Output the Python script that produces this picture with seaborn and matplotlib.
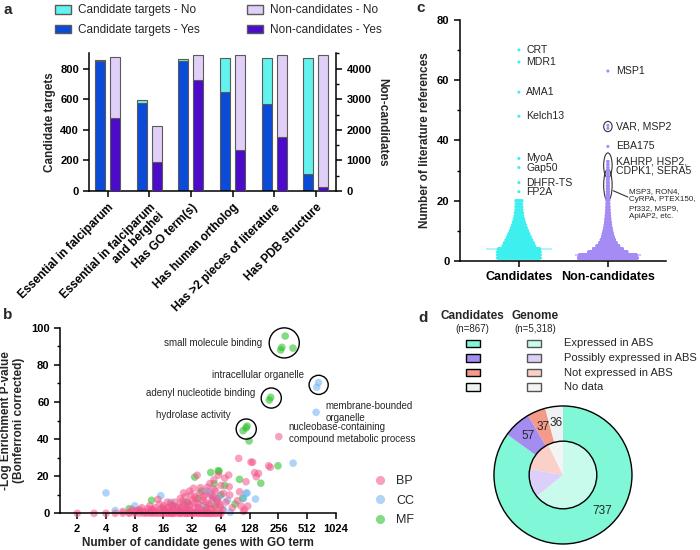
import numpy as np
import pandas as pd
import matplotlib
matplotlib.use("Agg")
import matplotlib.pyplot as plt
import seaborn as sns
from matplotlib.patches import Patch, Rectangle, Ellipse, Circle
from matplotlib.ticker import MultipleLocator, NullLocator

# ---------------- data ----------------
# panel a
criteria = ["Essential in falciparum", "Essential in falciparum\nand berghei", "Has GO term(s)",
            "Has human ortholog", "Has >2 pieces of literature", "Has PDB structure"]
cand_yes = [848, 572, 852, 650, 567, 111]
cand_no = [8, 20, 13, 217, 300, 756]
nonc_yes = [2400, 945, 3620, 1337, 1770, 140]
nonc_no = [1980, 1195, 831, 3114, 2681, 4311]

# panel b (GO terms)
bp_x = [2, 3, 4, 5, 6, 7, 8, 9, 10, 11, 12, 13, 14, 15, 16, 17, 18, 19, 20, 22, 24, 26, 28, 30, 33, 36,
        40, 44, 48, 52, 57, 62,
        8, 9, 10, 11, 12, 13, 14, 15, 16, 17, 18, 19, 20, 21, 22, 23, 24, 25, 26, 27, 28, 29, 30, 31,
        32, 33, 34, 35, 36, 37, 38, 39, 40, 42, 44, 46, 48, 49, 50, 52, 54, 55, 56, 58, 60, 62, 64,
        66, 68, 70, 72, 77, 78, 79, 84, 95, 98, 100, 104, 110, 113, 117, 122, 132, 137, 144, 150,
        158, 202, 210, 258, 45, 35, 27, 18, 12,
        6, 7, 7.5, 8.5, 9.5, 10.5, 11.5, 12.5, 13.5, 14.5, 15.5, 16.5, 17.5, 18.5, 19.5, 21, 23, 25,
        27, 29, 31, 34, 37, 41, 43, 47, 51, 53, 59, 63, 20, 24, 28, 32, 38, 42, 46, 50, 56, 64,
        26, 30, 34, 44, 54]
bp_y = [0] * 32 + \
       [1, 2, 1, 2.5, 1.5, 3, 7.5, 2, 4, 1, 3, 5, 2, 6, 4, 1.5, 8, 3, 5, 9, 2, 6, 4, 10,
        7, 13.5, 3, 8, 20.5, 5, 11, 13.8, 2, 9, 6, 14, 4, 16, 10, 7, 18, 3, 12, 8, 20.6, 5, 15,
        2, 10.8, 19, 6, 20.6, 14.3, 9.9, 3, 6.8, 29.6, 11.6, 3.9, 1, 2, 17, 3.9, 27.6, 27.5, 21.9, 19.7,
        21.5, 25.6, 24.8, 41.3, 1, 0.5, 0.5, 0.5, 0.5] + \
       [1, 0.5, 2, 1.5, 3, 0.5, 4, 2, 1, 5, 3, 2.5, 6, 1, 4, 0.5, 3, 6.5, 2, 4.5,
        1, 5.5, 3, 7, 1.5, 5, 2.5, 9, 6, 3.5, 0, 0, 0, 0, 0, 0, 0, 0, 0, 0,
        11, 12, 9, 10, 13]
cc_x = [4, 5, 8, 12, 15, 19, 22, 26, 30, 36, 40, 45, 49, 52, 58, 62, 68, 75, 80, 110, 117, 120, 147,
        364, 634, 644, 671]
cc_y = [11, 1.5, 4, 2, 9.5, 6, 3, 5, 2, 1, 4, 12, 11.5, 8, 7, 9, 2, 7, 0.5, 8, 10.8, 11, 7.7,
        27, 54.4, 67.9, 70.4]
mf_x = [7, 9, 12, 16, 20, 24, 28, 34, 37, 40, 45, 50, 54, 56, 60, 61, 64, 70, 90, 100, 108, 109, 117,
        120, 126, 167, 205, 212, 253, 270, 278, 301, 363]
mf_y = [2.5, 1, 7, 2, 4, 1, 6, 19.5, 8, 12, 3, 22, 16, 4, 23, 22.5, 10, 15, 5, 18.3, 8.1, 44.5, 46,
        47, 39, 16.2, 61, 62.5, 25.6, 88, 89.4, 95.5, 89]

# panel c (literature references, counts per value 1..)
cand_counts = [110, 110, 110, 105, 72, 64, 54, 45, 38, 31, 25, 20, 16, 13, 10, 9, 7, 7, 6, 7]
nonc_counts = [1160, 1097, 620, 420, 280, 190, 140, 105, 85, 65, 50, 40, 32, 26, 21, 17, 14, 12, 10,
               9, 8, 7, 6, 5, 5, 4, 4, 3, 3, 3, 2, 2, 2]
cand_out = {"CRT": 70, "MDR1": 66, "AMA1": 56, "Kelch13": 48, "MyoA": 34, "Gap50": 31,
            "DHFR-TS": 26, "FP2A": 23}
nonc_out = {"MSP1": 63, "VAR": 45, "MSP2": 44, "EBA175": 38}

# panel d
expr_labels = ["Expressed in ABS", "Possibly expressed in ABS", "Not expressed in ABS", "No data"]
cand_expr = [737, 57, 37, 36]
genome_expr = [3409, 729, 794, 386]

# ---------------- style ----------------
sns.set_style("ticks")
plt.rcParams["font.family"] = ["Liberation Sans", "DejaVu Sans"]
plt.rcParams["axes.linewidth"] = 1.1
plt.rcParams["xtick.major.width"] = 1.1
plt.rcParams["ytick.major.width"] = 1.1
plt.rcParams["xtick.minor.width"] = 1.0
plt.rcParams["ytick.minor.width"] = 1.0
plt.rcParams["xtick.major.size"] = 4
plt.rcParams["ytick.major.size"] = 4
plt.rcParams["ytick.minor.size"] = 2.5
plt.rcParams["axes.edgecolor"] = "black"
plt.rcParams["xtick.color"] = "black"
plt.rcParams["ytick.color"] = "black"

fig = plt.figure(figsize=(7, 5.5), dpi=100)

# ---------------- panel a ----------------
c_no, c_yes, n_no, n_yes = "#63F3EE", "#0A4BD8", "#E0CFF7", "#4B0BC8"
edge = "#5a5a5a"
ax_a = fig.add_axes([0.1276, 0.6527, 0.3524, 0.2504])
ax_a2 = ax_a.twinx()
xa = np.arange(len(criteria))
bw = 0.24
ax_a.bar(xa - 0.18, cand_yes, bw, color=c_yes, edgecolor=edge, lw=0.8)
ax_a.bar(xa - 0.18, cand_no, bw, bottom=cand_yes, color=c_no, edgecolor=edge, lw=0.8)
ax_a2.bar(xa + 0.18, nonc_yes, bw, color=n_yes, edgecolor=edge, lw=0.8)
ax_a2.bar(xa + 0.18, nonc_no, bw, bottom=nonc_yes, color=n_no, edgecolor=edge, lw=0.8)
ax_a.set_xlim(-0.44, 5.48)
ax_a.set_ylim(0, 900)
ax_a2.set_ylim(0, 4500)
ax_a.set_yticks(range(0, 801, 200))
ax_a2.set_yticks(range(0, 4001, 1000))
ax_a2.yaxis.set_minor_locator(MultipleLocator(500))
ax_a.set_xticks(xa)
ax_a.set_xticklabels(criteria, rotation=45, ha="right", rotation_mode="anchor",
                     fontsize=8.5, fontweight="bold", linespacing=0.95)
for t in ax_a.get_yticklabels() + ax_a2.get_yticklabels():
    t.set_fontweight("bold")
    t.set_fontsize(8)
ax_a.set_ylabel("Candidate targets", fontsize=8.5, fontweight="bold", labelpad=3)
ax_a2.set_ylabel("Non-candidates", fontsize=8.5, fontweight="bold", rotation=270, labelpad=12)
ax_a.spines["top"].set_visible(False)
ax_a.spines["right"].set_visible(False)
ax_a2.spines["top"].set_visible(False)
ax_a2.spines["left"].set_visible(False)
ax_a2.spines["bottom"].set_visible(False)
handles = [Patch(fc=c_no, ec=edge, label="Candidate targets - No"),
           Patch(fc=c_yes, ec=edge, label="Candidate targets - Yes"),
           Patch(fc=n_no, ec=edge, label="Non-candidates - No"),
           Patch(fc=n_yes, ec=edge, label="Non-candidates - Yes")]
fig.legend(handles=handles, ncol=2, loc="upper left", bbox_to_anchor=(0.0786, 0.992),
           frameon=False, fontsize=8.5, handlelength=1.35, handleheight=0.75,
           handletextpad=0.6, columnspacing=4.0, labelspacing=0.65, borderpad=0, borderaxespad=0)

# ---------------- panel b ----------------
df_b = pd.concat([
    pd.DataFrame({"x": mf_x, "y": mf_y, "cat": "MF"}),
    pd.DataFrame({"x": cc_x, "y": cc_y, "cat": "CC"}),
    pd.DataFrame({"x": bp_x, "y": bp_y, "cat": "BP"}),
], ignore_index=True)
pal_b = {"BP": "#F4548A", "CC": "#6DB2F4", "MF": "#20BE20"}
ax_b = fig.add_axes([0.0857, 0.0667, 0.3943, 0.3375])
sns.scatterplot(data=df_b, x="x", y="y", hue="cat", hue_order=["BP", "CC", "MF"], palette=pal_b,
                s=30, alpha=0.55, linewidth=0, ax=ax_b, clip_on=False)
ax_b.set_xscale("log", base=2)
ax_b.set_xlim(1.32, 1024)
ax_b.set_ylim(0, 100)
xt = [2, 4, 8, 16, 32, 64, 128, 256, 512, 1024]
ax_b.set_xticks(xt)
ax_b.set_xticklabels([str(v) for v in xt], fontsize=8, fontweight="bold")
ax_b.xaxis.set_minor_locator(NullLocator())
ax_b.set_yticks(range(0, 101, 20))
ax_b.yaxis.set_minor_locator(MultipleLocator(10))
for t in ax_b.get_yticklabels():
    t.set_fontweight("bold")
    t.set_fontsize(8)
ax_b.set_xlabel("Number of candidate genes with GO term", fontsize=8.5, fontweight="bold", labelpad=2)
ax_b.set_ylabel("-Log Enrichment P-value\n(Bonferroni corrected)", fontsize=8.5,
                fontweight="bold", labelpad=4)
sns.despine(ax=ax_b)
# annotation circles and labels
ax_b.scatter([294, 674, 215, 117.6], [91.8, 69.2, 62.1, 45.4], s=[470, 190, 210, 210],
             facecolors="none", edgecolors="black", linewidths=1.0, clip_on=False)
lab_kw = dict(fontsize=7, va="center")
ax_b.text(173, 91.6, "small molecule binding", ha="right", **lab_kw)
ax_b.text(478, 74.5, "intracellular organelle", ha="right", **lab_kw)
ax_b.text(146, 65, "adenyl nucleotide binding", ha="right", **lab_kw)
ax_b.text(81, 52.8, "hydrolase activity", ha="right", **lab_kw)
ax_b.text(792, 54.7, "membrane-bounded\norganelle", ha="left", linespacing=1.25, **lab_kw)
ax_b.text(326, 43.4, "nucleobase-containing\ncompound metabolic process", ha="left",
          linespacing=1.25, **lab_kw)
sns.move_legend(ax_b, "upper left", bbox_to_anchor=(0.525, 0.136), bbox_transform=fig.transFigure,
                title=None, frameon=False, fontsize=9, handletextpad=0.3, labelspacing=0.6,
                borderpad=0, borderaxespad=0, markerscale=1.2)

# ---------------- panel c ----------------
rows = []
for g, counts, half in [(0, cand_counts, 0.24), (1, nonc_counts, 0.33)]:
    nmax = max(counts)
    for v, n in enumerate(counts, start=1):
        wdt = half * (n / nmax) ** 0.7
        xs = np.linspace(-wdt, wdt, n) if n > 1 else np.array([0.0])
        for xo in xs:
            rows.append((g + xo, v, g))
for name, v in cand_out.items():
    rows.append((0, v, 0))
for name, v in nonc_out.items():
    rows.append((1, v, 1))
df_c = pd.DataFrame(rows, columns=["xpos", "refs", "group"])
ax_c = fig.add_axes([0.657, 0.5255, 0.2943, 0.4385])
med_cols = ["#A8F6F6", "#CDBDF8"]
for g in [0, 1]:
    med = np.median(df_c.loc[df_c["group"] == g, "refs"])
    ax_c.hlines(med, g - 0.37, g + 0.37, color=med_cols[g], lw=1.3, zorder=1)
sns.scatterplot(data=df_c, x="xpos", y="refs", hue="group", palette=["#3EEFEF", "#A58CF5"],
                s=5, linewidth=0, legend=False, ax=ax_c, zorder=2, clip_on=False)
ax_c.set_xlim(-0.663, 1.652)
ax_c.set_ylim(0, 80)
ax_c.set_xticks([0, 1])
ax_c.set_xticklabels(["Candidates", "Non-candidates"], fontsize=9, fontweight="bold")
ax_c.set_yticks(range(0, 81, 20))
ax_c.yaxis.set_minor_locator(MultipleLocator(10))
for t in ax_c.get_yticklabels():
    t.set_fontweight("bold")
    t.set_fontsize(8)
ax_c.set_xlabel("")
ax_c.set_ylabel("Number of literature references", fontsize=8.5, fontweight="bold", labelpad=4)
sns.despine(ax=ax_c)
for name, v in cand_out.items():
    ax_c.text(0.08, v, name, fontsize=7.6, va="center")
ax_c.text(1.09, nonc_out["MSP1"], "MSP1", fontsize=7.6, va="center")
ax_c.text(1.09, 44.6, "VAR, MSP2", fontsize=7.6, va="center")
ax_c.text(1.09, nonc_out["EBA175"], "EBA175", fontsize=7.6, va="center")
ax_c.text(1.09, 31.5, "KAHRP, HSP2,\nCDPK1, SERA5", fontsize=7.6, va="center", linespacing=0.95)
ax_c.text(1.24, 24.3, "MSP3, RON4,\nCyRPA, PTEX150,\nPf332, MSP9,\nApiAP2, etc.", fontsize=5.8,
          va="top", linespacing=1.3)
for cy, hh in [(44.6, 3.4), (31.7, 8.3), (25.2, 10.5)]:
    ax_c.add_patch(Ellipse((1, cy), 0.095, hh, fill=False, ec="#333333", lw=0.8))
ax_c.plot([1.06, 1.225], [23.3, 21.2], color="#333333", lw=0.8)

# ---------------- panel d ----------------
d_outer = ["#80F7D6", "#A58CF0", "#F49A88", "#EEF2F2"]
d_inner = ["#C9FBEC", "#DCD0FA", "#FBD0C9", "#F3F5F5"]
ax_d = fig.add_axes([0.7037, 0.0084, 0.2011, 0.256])
wedges, _, autot = ax_d.pie(cand_expr, radius=1, startangle=90, counterclock=False, colors=d_outer,
                            wedgeprops=dict(width=0.51, linewidth=0),
                            autopct=lambda p: f"{round(p * sum(cand_expr) / 100)}",
                            pctdistance=0.755, textprops=dict(fontsize=8.5))
ax_d.pie(genome_expr, radius=0.49, startangle=90, counterclock=False, colors=d_inner,
         wedgeprops=dict(linewidth=0))
ang = np.deg2rad(90 - 133)
autot[0].set_position((0.77 * np.cos(ang), 0.77 * np.sin(ang)))
ax_d.add_patch(Circle((0, 0), 1, fill=False, ec="black", lw=1))
ax_d.add_patch(Circle((0, 0), 0.49, fill=False, ec="black", lw=1))
ax_d.set_xlim(-1.02, 1.02)
ax_d.set_ylim(-1.02, 1.02)
ax_d.set_aspect("equal")

# ---------------- overlay: panel letters and legend d ----------------
ov = fig.add_axes([0, 0, 1, 1])
ov.set_xlim(0, 700)
ov.set_ylim(550, 0)
ov.axis("off")
for lt, px, py in [("a", 3, 10), ("b", 3, 315), ("c", 416, 8), ("d", 418, 318)]:
    ov.text(px, py, lt, fontsize=11, fontweight="bold", va="center")
ov.text(472, 316, "Candidates", fontsize=8.5, fontweight="bold", ha="center", va="center")
ov.text(472, 329.5, "(n=867)", fontsize=7, ha="center", va="center")
ov.text(535, 316, "Genome", fontsize=8.5, fontweight="bold", ha="center", va="center")
ov.text(535, 329.5, "(n=5,318)", fontsize=7, ha="center", va="center")
for i, lab in enumerate(expr_labels):
    yy = 343.5 + i * 14.5
    ov.add_patch(Rectangle((466, yy - 3.7), 14, 7.4, fc=d_outer[i], ec="black", lw=1))
    ov.add_patch(Rectangle((527, yy - 3.7), 14, 7.4, fc=d_inner[i], ec="#555555", lw=1))
    ov.text(564, yy, lab, fontsize=8, va="center")

fig.savefig("out.png", dpi=100)
